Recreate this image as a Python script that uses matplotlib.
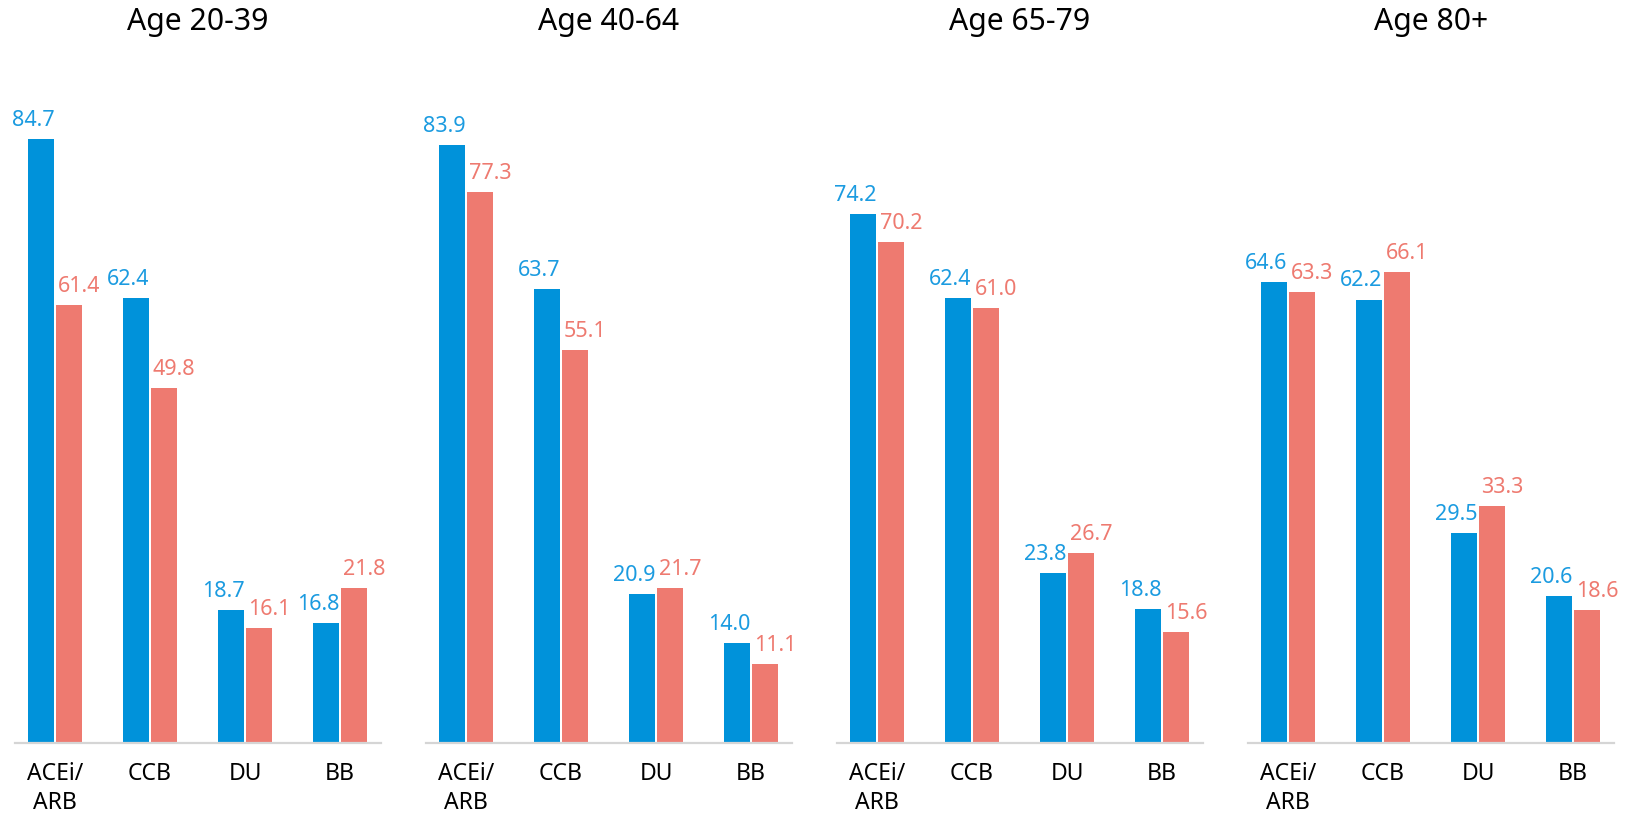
import matplotlib
matplotlib.use("Agg")
import matplotlib.pyplot as plt
import numpy as np

plt.rcParams['font.family'] = ['Noto Sans', 'DejaVu Sans']

titles = ["Age 20-39", "Age 40-64", "Age 65-79", "Age 80+"]
categories = ["ACEi/\nARB", "CCB", "DU", "BB"]
blue_vals = [
    [84.7, 62.4, 18.7, 16.8],
    [83.9, 63.7, 20.9, 14.0],
    [74.2, 62.4, 23.8, 18.8],
    [64.6, 62.2, 29.5, 20.6],
]
red_vals = [
    [61.4, 49.8, 16.1, 21.8],
    [77.3, 55.1, 21.7, 11.1],
    [70.2, 61.0, 26.7, 15.6],
    [63.3, 66.1, 33.3, 18.6],
]

BLUE = "#0092DA"
RED = "#EE7A70"
BLUE_TXT = "#1B9BE0"
RED_TXT = "#EE7A70"

W, H = 1637, 816
fig = plt.figure(figsize=(W / 100, H / 100), dpi=100)

px_per_unit = 7.13
ytop = 95
bottom_px = 73
ax_h_px = ytop * px_per_unit
ax_w_px = 366
lefts = [15, 426, 837, 1248]

bw = 0.274
off = 0.147
x = np.arange(len(categories))

for i in range(4):
    ax = fig.add_axes([lefts[i] / W, bottom_px / H, ax_w_px / W, ax_h_px / H])
    bb = ax.bar(x - off, blue_vals[i], width=bw, color=BLUE, zorder=2)
    rb = ax.bar(x + off, red_vals[i], width=bw, color=RED, zorder=2)
    for rect, v in zip(bb, blue_vals[i]):
        ax.annotate(f"{v:.1f}", (rect.get_x() + rect.get_width() + 0.005, v),
                    xytext=(0, 9.4), textcoords="offset points",
                    ha="right", va="baseline", fontsize=15.5, color=BLUE_TXT)
    for rect, v in zip(rb, red_vals[i]):
        ax.annotate(f"{v:.1f}", (rect.get_x() + 0.02, v),
                    xytext=(0, 9.4), textcoords="offset points",
                    ha="left", va="baseline", fontsize=15.5, color=RED_TXT)
    ax.set_xlim(-0.42, 3.43)
    ax.set_ylim(0, ytop)
    ax.set_xticks(x)
    ax.set_xticklabels(categories, fontsize=16.5, linespacing=1.3, va="top")
    ax.tick_params(axis="x", length=0, pad=13.5)
    ax.set_yticks([])
    for s in ["top", "right", "left"]:
        ax.spines[s].set_visible(False)
    ax.spines["bottom"].set_color("#D5D5D5")
    ax.spines["bottom"].set_linewidth(1.6)
    ax.spines["bottom"].set_zorder(3)
    cx = (lefts[i] + ax_w_px / 2) / W
    fig.text(cx, 1 - 22 / H, titles[i], ha="center", va="center", fontsize=21.7)

fig.savefig("out.png", dpi=100, facecolor="white")
